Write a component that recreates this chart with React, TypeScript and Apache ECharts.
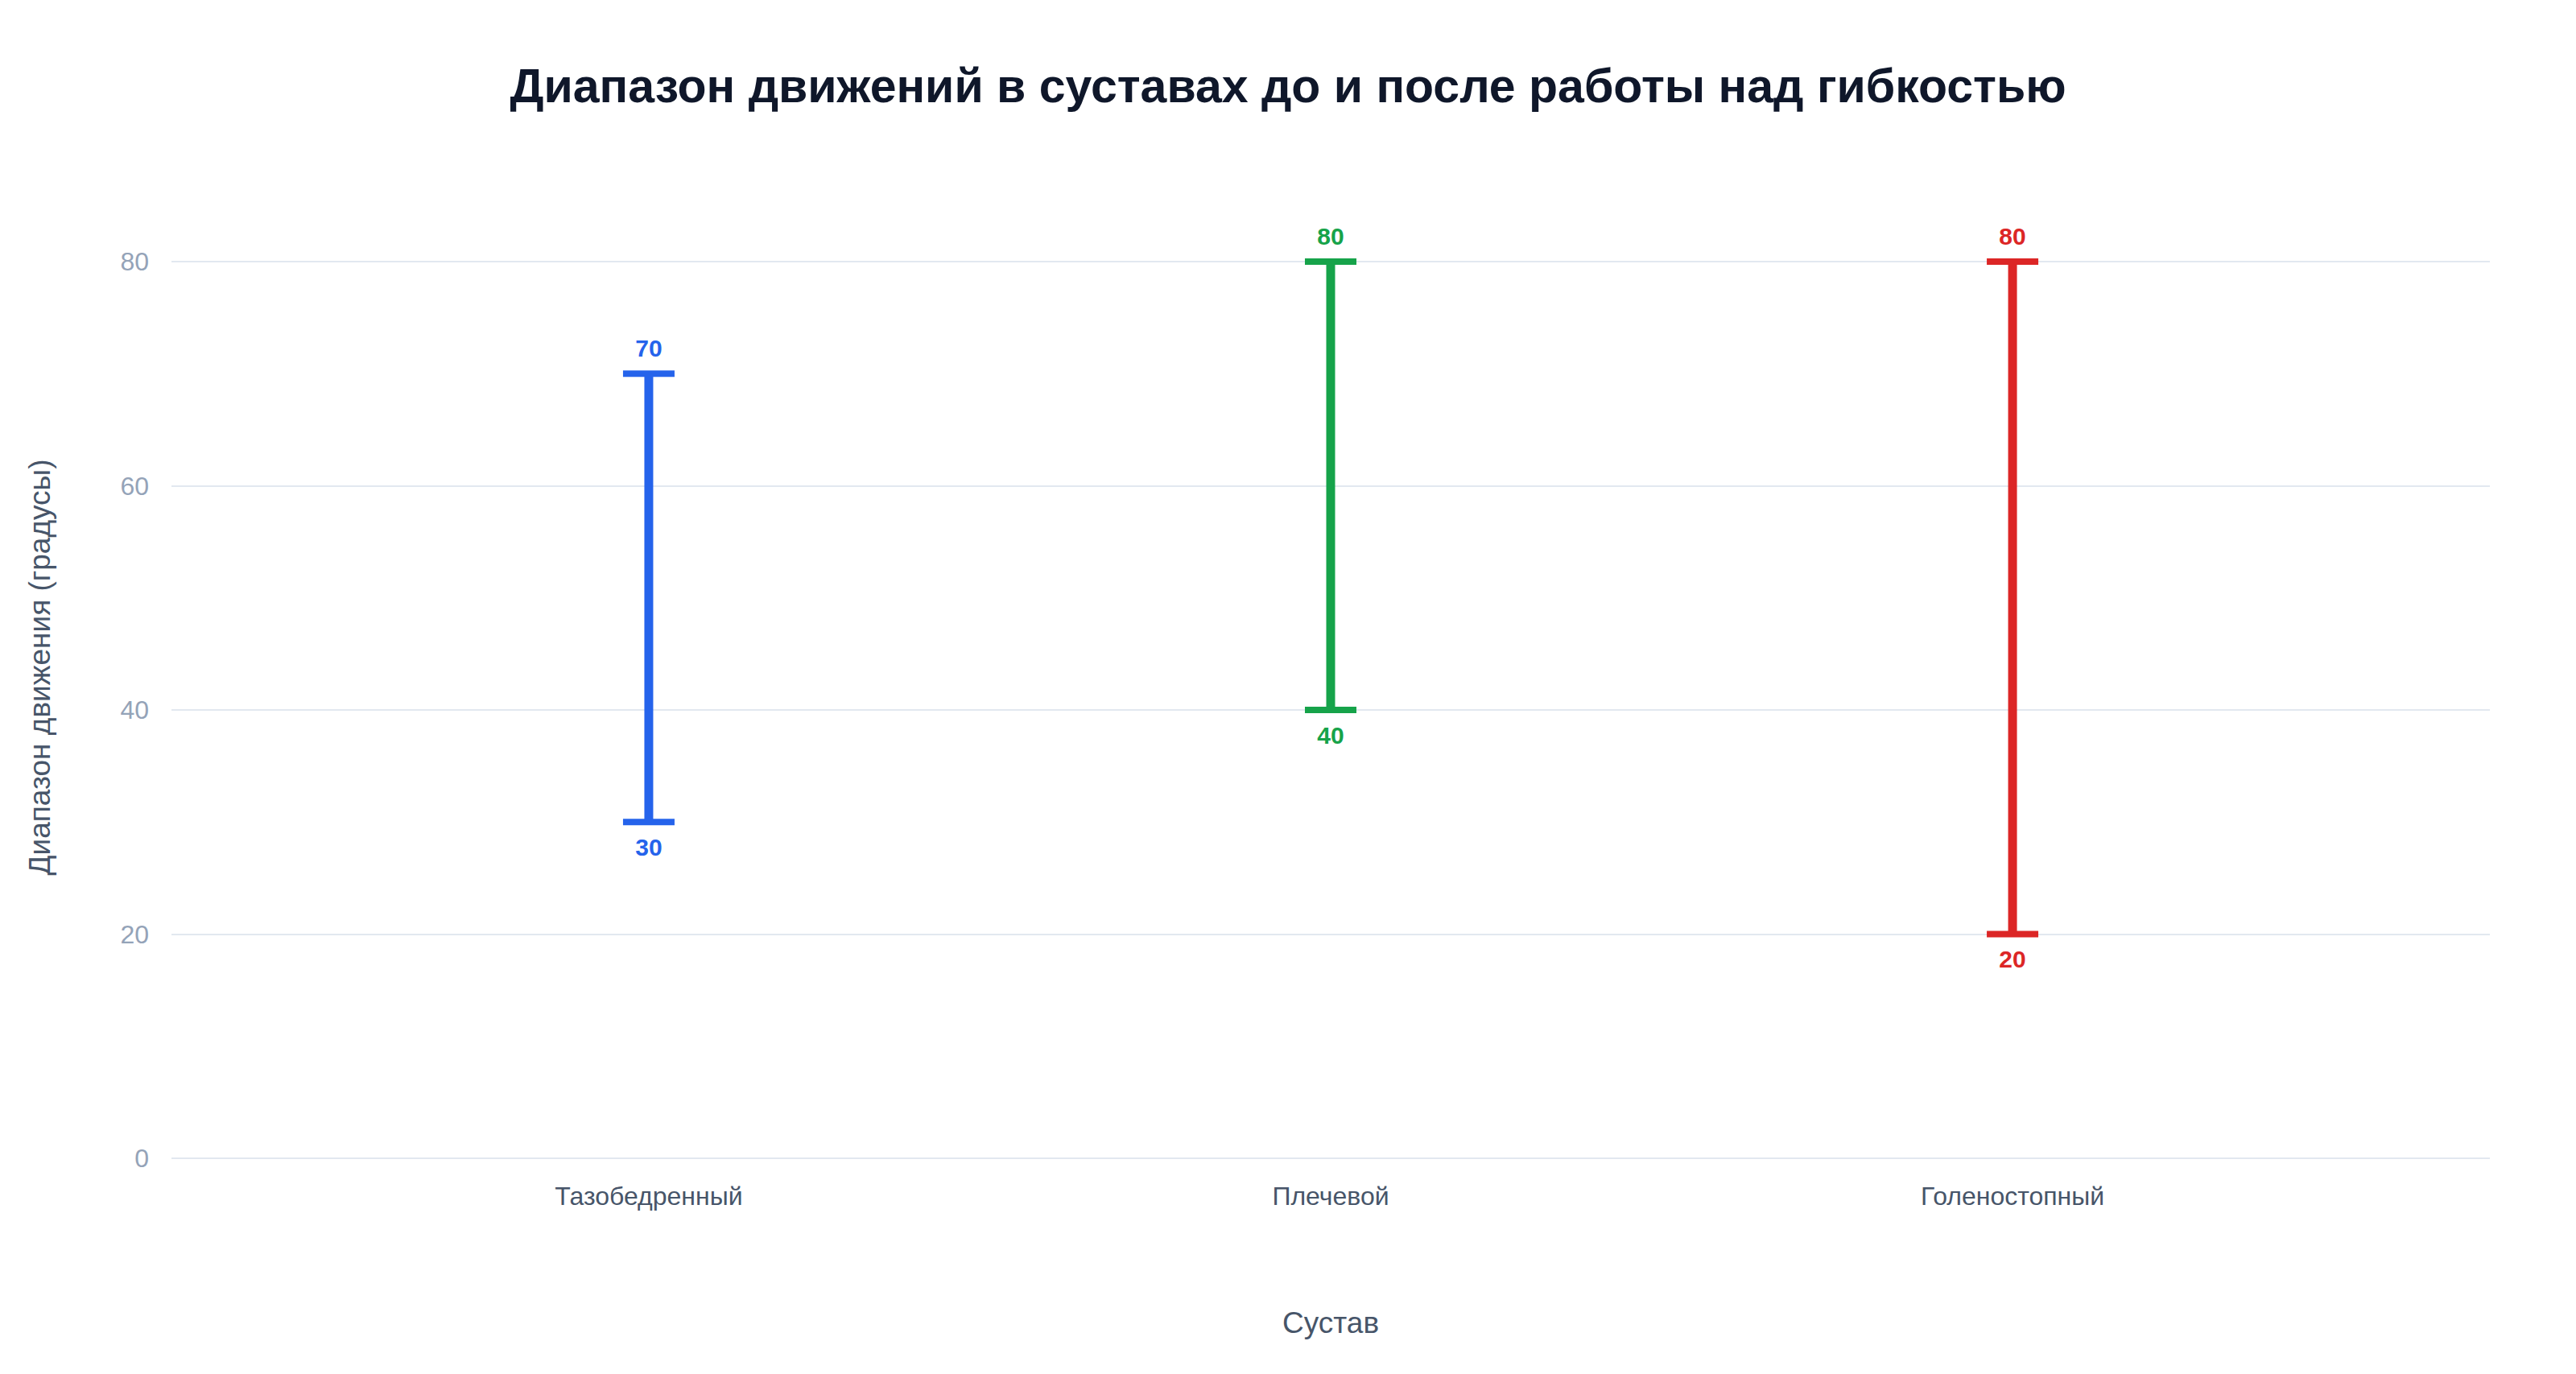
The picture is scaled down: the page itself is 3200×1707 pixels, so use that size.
import React, { useEffect, useRef } from "react";
import * as echarts from "echarts";

const categories = ["Тазобедренный", "Плечевой", "Голеностопный"];
const beforeValues = [30, 40, 20];
const afterValues = [70, 80, 80];
const yTicks = [0, 20, 40, 60, 80];
const barColors = ["#2563eb", "#16a34a", "#dc2626"];

const FONT = '"Liberation Sans", Arial, Helvetica, sans-serif';

const App = () => {
  const chartRef = useRef<HTMLDivElement>(null);

  useEffect(() => {
    document.body.style.margin = "0";
    const chart = echarts.init(chartRef.current as HTMLDivElement, undefined, {
      renderer: "svg",
    });

    const rangeData = categories.map((_, i) => [i, beforeValues[i], afterValues[i]]);

    const option = {
      animation: false,
      backgroundColor: "#ffffff",
      textStyle: { fontFamily: FONT },
      title: {
        text: "Диапазон движений в суставах до и после работы над гибкостью",
        left: "center",
        top: 72,
        textStyle: {
          fontFamily: FONT,
          fontSize: 59,
          fontWeight: "bold",
          color: "#0f172a",
        },
      },
      // y-axis title sits at the centre of the full plot area, not of 0..80
      graphic: [
        {
          type: "text",
          x: 49,
          y: 829,
          rotation: Math.PI / 2,
          style: {
            text: "Диапазон движения (градусы)",
            fill: "#475569",
            font: `37px ${FONT}`,
            align: "center",
            verticalAlign: "middle",
          },
        },
      ],
      grid: {
        left: 213,
        right: 107,
        top: 325,
        bottom: 268,
      },
      xAxis: {
        type: "value",
        min: -0.7,
        max: 2.7,
        name: "Сустав",
        nameLocation: "middle",
        nameGap: 186,
        nameTextStyle: { fontFamily: FONT, fontSize: 37, color: "#475569" },
        axisLine: { show: false },
        axisTick: { show: false },
        splitLine: { show: false },
        axisLabel: {
          customValues: [0, 1, 2],
          formatter: (v: number) => categories[Math.round(v)] ?? "",
          fontFamily: FONT,
          fontSize: 32,
          color: "#475569",
          margin: 31,
        },
      },
      yAxis: {
        type: "value",
        min: yTicks[0],
        max: yTicks[yTicks.length - 1],
        interval: 20,
        axisLine: { show: false },
        axisTick: { show: false },
        axisLabel: {
          fontFamily: FONT,
          fontSize: 32,
          color: "#94a3b8",
          margin: 28,
        },
        splitLine: { lineStyle: { color: "#e2e8f0", width: 2 } },
      },
      series: [
        {
          type: "custom",
          clip: false,
          data: rangeData,
          encode: { x: 0, y: [1, 2] },
          renderItem: (params: any, api: any) => {
            const i = api.value(0);
            const low = api.value(1);
            const high = api.value(2);
            const top = api.coord([i, high]);
            const bottom = api.coord([i, low]);
            const color = barColors[params.dataIndex % barColors.length];
            const half = 32;
            return {
              type: "group",
              children: [
                {
                  type: "line",
                  shape: { x1: top[0], y1: top[1], x2: bottom[0], y2: bottom[1] },
                  style: { stroke: color, lineWidth: 11 },
                },
                {
                  type: "line",
                  shape: { x1: top[0] - half, y1: top[1], x2: top[0] + half, y2: top[1] },
                  style: { stroke: color, lineWidth: 8 },
                },
                {
                  type: "line",
                  shape: {
                    x1: bottom[0] - half,
                    y1: bottom[1],
                    x2: bottom[0] + half,
                    y2: bottom[1],
                  },
                  style: { stroke: color, lineWidth: 8 },
                },
                {
                  type: "text",
                  x: top[0],
                  y: top[1] - 32,
                  style: {
                    text: String(high),
                    fill: color,
                    font: `bold 30px ${FONT}`,
                    align: "center",
                    verticalAlign: "middle",
                  },
                },
                {
                  type: "text",
                  x: bottom[0],
                  y: bottom[1] + 31,
                  style: {
                    text: String(low),
                    fill: color,
                    font: `bold 30px ${FONT}`,
                    align: "center",
                    verticalAlign: "middle",
                  },
                },
              ],
            };
          },
        },
      ],
    };

    chart.setOption(option);
    return () => {
      chart.dispose();
    };
  }, []);

  return <div ref={chartRef} style={{ width: "3200px", height: "1707px" }} />;
};

export default App;
